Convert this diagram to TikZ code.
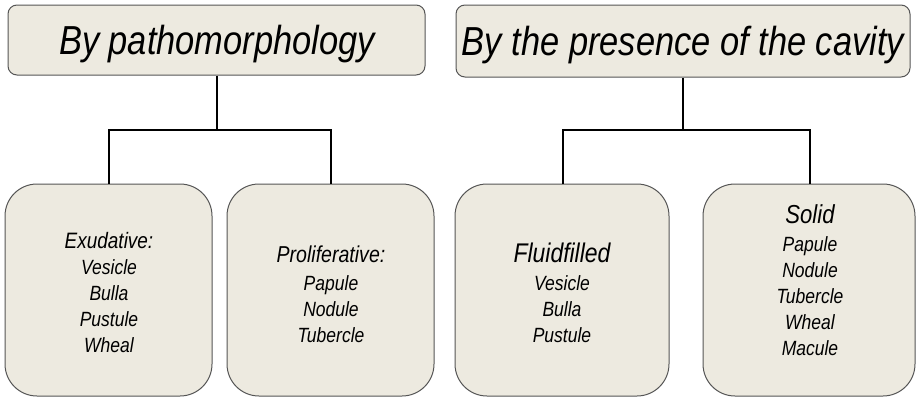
\documentclass[tikz,border=0pt]{standalone}
\usepackage{fontspec}
\setmainfont{Liberation Sans}[FakeStretch=0.85]
\definecolor{boxfill}{HTML}{EDEAE0}
\definecolor{boxline}{HTML}{555555}
\tikzset{
  topbox/.style={draw=boxline, fill=boxfill, line width=1pt, rounded corners=9pt},
  lowbox/.style={draw=boxline, fill=boxfill, line width=1pt, rounded corners=32pt},
  conn/.style={draw=black, line width=2pt},
  lbl/.style={align=center, inner sep=0pt, anchor=base},
  item/.style={lbl, font=\itshape\fontsize{20.6}{26}\selectfont},
}
\begin{document}
\begin{tikzpicture}[x=1pt,y=-1pt]
\useasboundingbox (0,0) rectangle (916,397);
% top boxes
\draw[topbox] (8,5) rectangle (425,75);
\draw[topbox] (456,5) rectangle (910,77);
\node[lbl, font=\itshape\fontsize{40.5}{42}\selectfont] (t1txt) at (217,54.5) {By pathomorphology};
\node[lbl, font=\itshape\fontsize{40.5}{42}\selectfont] (t2txt) at (683,55.5) {By the presence of the cavity};
% bottom boxes
\draw[lowbox] (5,184) rectangle (212,396);
\draw[lowbox] (227,184) rectangle (434,396);
\draw[lowbox] (455,184) rectangle (669,396);
\draw[lowbox] (703,184) rectangle (915,396);
\coordinate (b1) at (109,184);
\coordinate (b2) at (331,184);
\coordinate (b3) at (563,184);
\coordinate (b4) at (810,184);
\coordinate (t1b) at (217,75.5);
\coordinate (t2b) at (683,77.5);
% connectors
\draw[conn] (t1b) -- (217,130) -| (b1);
\draw[conn] (217,130) -| (b2);
\draw[conn] (t2b) -- (683,130) -| (b3);
\draw[conn] (683,130) -| (b4);
% texts
\node[lbl, font=\itshape\fontsize{22.3}{26}\selectfont] (x1h) at (109,248) {Exudative:};
\node[item] (x1a) at (109,274) {Vesicle};
\node[item] (x1b) at (109,300) {Bulla};
\node[item] (x1c) at (109,326) {Pustule};
\node[item] (x1d) at (109,352) {Wheal};
\node[lbl, font=\itshape\fontsize{23}{26}\selectfont] (x2h) at (331,262) {Proliferative:};
\node[item] (x2a) at (331,290) {Papule};
\node[item] (x2b) at (331,316) {Nodule};
\node[item] (x2c) at (331,342) {Tubercle};
\node[lbl, font=\itshape\fontsize{27}{26}\selectfont] (x3h) at (562,262) {Fluidfilled};
\node[item] (x3a) at (562,290) {Vesicle};
\node[item] (x3b) at (562,316) {Bulla};
\node[item] (x3c) at (562,342) {Pustule};
\node[lbl, font=\itshape\fontsize{26}{26}\selectfont] (x4h) at (810,223) {Solid};
\node[item] (x4a) at (810,251) {Papule};
\node[item] (x4b) at (810,277) {Nodule};
\node[item] (x4c) at (810,303) {Tubercle};
\node[item] (x4d) at (810,329) {Wheal};
\node[item] (x4e) at (810,355) {Macule};
\end{tikzpicture}
\end{document}
